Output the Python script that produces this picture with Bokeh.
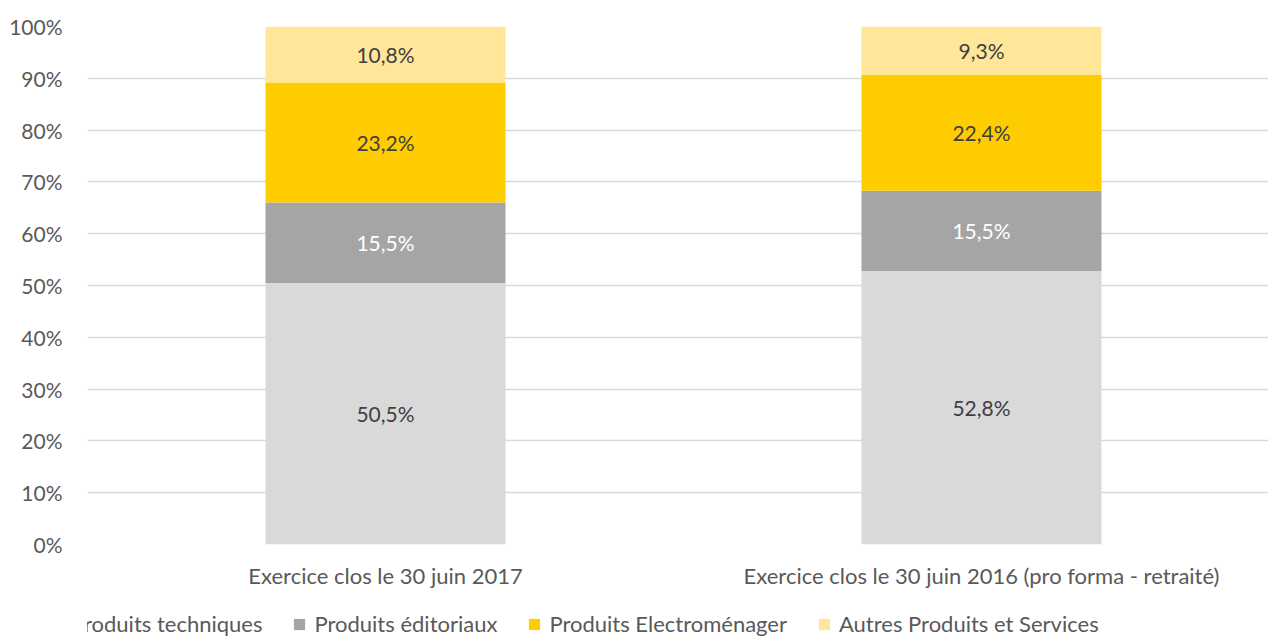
from bokeh.plotting import figure
from bokeh.layouts import column
from bokeh.models import ColumnDataSource, Legend, LegendItem, FixedTicker, Range1d
from bokeh.core.properties import value
from bokeh.embed import file_html
from bokeh.resources import INLINE

categories = ["Exercice clos le 30 juin 2017", "Exercice clos le 30 juin 2016 (pro forma - retraité)"]
series_names = ["Produits techniques", "Produits éditoriaux", "Produits Electroménager", "Autres Produits et Services"]
produits_techniques = [50.5, 52.8]
produits_editoriaux = [15.5, 15.5]
produits_electromenager = [23.2, 22.4]
autres_produits = [10.8, 9.3]
y_ticks = [0, 10, 20, 30, 40, 50, 60, 70, 80, 90, 100]

colors = ["#D9D9D9", "#A5A5A5", "#FFCC00", "#FFE699"]
label_colors = ["#404040", "#FFFFFF", "#404040", "#404040"]
FONT = "Lato"
TXT = "#595959"

series = [produits_techniques, produits_editoriaux, produits_electromenager, autres_produits]
xs = [i + 0.5 for i in range(len(categories))]

W = 1268
LEFT, TOP, BOTTOM = 87, 26, 48
MAIN_H = 592
LEG_H = 44
CAT_PX = 596

p = figure(width=W, height=MAIN_H, output_backend="svg", toolbar_location=None,
           x_range=Range1d(0, (W - LEFT) / CAT_PX), y_range=Range1d(0, 100),
           min_border_left=LEFT, min_border_right=0, min_border_top=TOP, min_border_bottom=BOTTOM)
p.outline_line_color = None
p.background_fill_color = "white"

# legend strip below the chart
pl = figure(width=W, height=LEG_H, output_backend="svg", toolbar_location=None,
            x_range=Range1d(100, 101), y_range=Range1d(100, 101),
            x_axis_type=None, y_axis_type=None, min_border=0)
pl.outline_line_color = None
pl.xgrid.grid_line_color = None
pl.ygrid.grid_line_color = None

legend_renderers = []
bottoms = [0.0] * len(categories)
for name, vals, col, lcol in zip(series_names, series, colors, label_colors):
    tops = [b + v for b, v in zip(bottoms, vals)]
    src = ColumnDataSource(dict(x=xs, bottom=bottoms, top=tops,
                                mid=[(b + t) / 2 for b, t in zip(bottoms, tops)],
                                lab=[("%.1f" % v).replace(".", ",") + "%" for v in vals]))
    p.vbar(x="x", bottom="bottom", top="top", width=240 / CAT_PX, fill_color=col,
           line_color=None, source=src)
    p.text(x="x", y="mid", text="lab", source=src, text_align="center", text_baseline="middle",
           text_font=value(FONT), text_font_size="21px", text_color=lcol)
    # same bars in the legend strip, outside its visible range (only used for legend swatches)
    lr = pl.vbar(x="x", bottom="bottom", top="top", width=0.4, fill_color=col,
                 line_color=None, source=src)
    legend_renderers.append(lr)
    bottoms = tops

# axes
p.yaxis.ticker = FixedTicker(ticks=y_ticks)
p.yaxis.major_label_overrides = {t: f"{t}%" for t in y_ticks}
p.yaxis.axis_line_color = None
p.yaxis.major_tick_line_color = None
p.yaxis.minor_tick_line_color = None
p.yaxis.major_label_text_font = FONT
p.yaxis.major_label_text_font_size = "21px"
p.yaxis.major_label_text_color = TXT
p.yaxis.major_label_standoff = 19

p.xaxis.ticker = FixedTicker(ticks=xs)
p.xaxis.major_label_overrides = {x: c for x, c in zip(xs, categories)}
p.xaxis.axis_line_color = None
p.xaxis.major_tick_line_color = None
p.xaxis.minor_tick_line_color = None
p.xaxis.major_label_text_font = FONT
p.xaxis.major_label_text_font_size = "22px"
p.xaxis.major_label_text_color = TXT
p.xaxis.major_label_standoff = 11

p.xgrid.grid_line_color = None
p.ygrid.ticker = FixedTicker(ticks=y_ticks)
p.ygrid.grid_line_color = "#D9D9D9"
p.ygrid.grid_line_width = 1.5

legend = Legend(items=[LegendItem(label=n, renderers=[r]) for n, r in zip(series_names, legend_renderers)],
                orientation="horizontal", location=(-38, -1),
                label_text_font=FONT, label_text_font_size="22px", label_text_color=TXT,
                glyph_width=14, glyph_height=14, label_standoff=8, spacing=30,
                padding=0, margin=0, border_line_color=None, background_fill_alpha=0)
pl.add_layout(legend)

layout = column(p, pl, spacing=0)
open("out.html", "w").write(file_html(layout, INLINE))
